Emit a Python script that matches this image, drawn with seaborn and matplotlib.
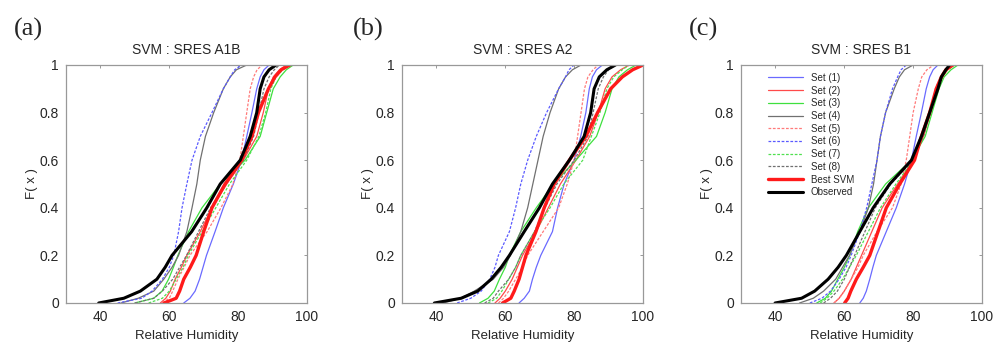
import numpy as np
import pandas as pd
import matplotlib
matplotlib.use("Agg")
import matplotlib.pyplot as plt
import seaborn as sns

# Cumulative probability levels at which the curves were read
F_levels = [0, 0.02, 0.05, 0.1, 0.15, 0.2, 0.3, 0.4, 0.5, 0.6, 0.7, 0.8, 0.9, 0.95, 0.98, 1.0]

series_names = ["Set (1)", "Set (2)", "Set (3)", "Set (4)", "Set (5)",
                "Set (6)", "Set (7)", "Set (8)", "Best SVM", "Observed"]

# Panel (a): SVM : SRES A1B  (relative humidity at each F level)
a1b_set1 = [64.2, 66, 67.5, 68.8, 69.8, 70.8, 73.3, 75.7, 78.6, 81, 82.5, 84, 85.4, 86.4, 87.5, 89]
a1b_set2 = [57.4, 59, 60.3, 61.7, 63.5, 65.1, 69, 72.4, 76.7, 81.5, 85.4, 87.3, 88.8, 90.2, 92, 94]
a1b_set3 = [50, 55.5, 57.9, 59.8, 61.2, 62.5, 65.6, 69.5, 74.8, 82, 86.4, 88.3, 90.2, 92.2, 94, 96]
a1b_set4 = [46, 51, 55.5, 58.4, 60.8, 62.7, 65.1, 66.6, 68, 69, 70.5, 72.9, 75.7, 77.7, 79.5, 82.5]
a1b_set5 = [58, 60, 61, 62.5, 64.3, 66, 71, 75, 78.5, 80.5, 81.5, 82.5, 83.5, 84.5, 85.5, 87]
a1b_set6 = [45, 52, 55, 58, 60, 61.3, 62.7, 63.7, 65.1, 66.6, 69, 72.4, 75.7, 77.7, 79, 81]
a1b_set7 = [54, 58, 60, 62, 64, 65.5, 69.5, 73.5, 77.5, 82.5, 86, 88, 89.5, 91, 93, 95]
a1b_set8 = [50, 55.5, 58, 61, 63, 65, 68.5, 72, 76.5, 81.5, 84.5, 86, 87.5, 89, 90.5, 92]
a1b_best = [58.5, 62, 63, 64.2, 66.1, 67.8, 70, 72.4, 76.2, 81, 84, 85.9, 88.8, 90.7, 92.5, 95]
a1b_obs = [39.5, 46.8, 51.6, 56.4, 58.8, 60.8, 66.5, 70.9, 74.8, 80.6, 83.5, 85.4, 86.4, 87.5, 89, 91]

# Panel (b): SVM : SRES A2
a2_set1 = [64, 65.5, 67, 67.9, 69, 70.3, 73.7, 75.2, 77.1, 80, 81.9, 83.4, 84.4, 85.3, 86.5, 88.2]
a2_set2 = [57, 58.5, 60, 62, 63.5, 65, 69, 72.5, 76, 80.5, 84.5, 87, 89, 91, 93.5, 96]
a2_set3 = [52.5, 55, 56.8, 58.3, 60, 61.2, 64.5, 69, 74, 80.5, 86.5, 89, 91, 93, 95.5, 98]
a2_set4 = [42, 47, 51, 56.5, 59.5, 61.5, 64.5, 66.5, 68, 69.5, 71, 73, 75.5, 77.5, 79.5, 82]
a2_set5 = [58, 59.5, 61, 63, 65, 66.5, 71, 75.5, 78, 80, 81, 82, 83, 84, 85.5, 87]
a2_set6 = [46, 50, 53, 55.5, 57, 58, 61.2, 63, 64.5, 66.5, 69, 72, 75.5, 77.5, 78.5, 80]
a2_set7 = [55, 57.5, 59, 61, 63, 64.5, 68.5, 73, 77, 82.5, 85, 87.5, 89.5, 91.5, 94, 96]
a2_set8 = [54, 56.5, 58, 61, 63, 64.5, 68.5, 71.5, 75, 80, 84, 85.5, 87, 88.5, 90, 92]
a2_best = [59.2, 61.6, 62.6, 64, 65, 66, 68.9, 71.3, 74.2, 78.6, 83.4, 86.8, 90.6, 94, 97, 100]
a2_obs = [39.4, 47.2, 52, 55.9, 58.8, 61.2, 65.5, 69.9, 73.7, 78.6, 82.9, 84.8, 85.8, 87.3, 89.5, 92]

# Panel (c): SVM : SRES B1
b1_set1 = [64.5, 65.5, 66.4, 67.4, 68.3, 69.3, 72.2, 75.1, 77.5, 79.5, 80.9, 82.4, 83.8, 84.8, 85.8, 87.2]
b1_set2 = [57, 58.5, 60, 62, 63.5, 65, 68, 71, 75.5, 80, 83, 85, 87, 88.5, 90, 92]
b1_set3 = [52, 54.5, 56.3, 58.1, 60, 61.6, 63.9, 67, 72, 79.5, 83.5, 85.5, 87.5, 89, 91, 93]
b1_set4 = [47, 51, 54, 57.5, 59.5, 61.5, 64.5, 67, 68.5, 69.5, 70.5, 72, 74.5, 76, 77.5, 80]
b1_set5 = [57, 58.5, 60, 62, 64, 65.5, 69.5, 74, 76.5, 78, 79, 80, 81.5, 82.5, 84, 86]
b1_set6 = [50, 53.5, 56, 58.5, 60.5, 62, 64.5, 66.5, 68, 69.5, 70.5, 72, 74, 75.5, 76.5, 78]
b1_set7 = [53, 55, 57, 59.5, 61.5, 63.5, 67, 70.5, 75, 80, 82.5, 85, 87, 88.5, 90, 92]
b1_set8 = [54, 56, 58, 60, 61.5, 63, 66, 69, 73.5, 80, 83, 85, 86.5, 88, 89.5, 91]
b1_best = [60.1, 61.1, 61.9, 63.5, 65.5, 67.4, 69.8, 72.2, 76.1, 80.4, 82.4, 84.8, 86.7, 88.2, 89.5, 91.5]
b1_obs = [39.9, 47.6, 51.4, 55.3, 58.2, 60.6, 64.5, 68.4, 73.2, 79.5, 82.4, 84.8, 87.2, 88.2, 89.5, 90.6]

panel_titles = ["SVM : SRES A1B", "SVM : SRES A2", "SVM : SRES B1"]
panel_letters = ["(a)", "(b)", "(c)"]
panel_data = [
    [a1b_set1, a1b_set2, a1b_set3, a1b_set4, a1b_set5, a1b_set6, a1b_set7, a1b_set8, a1b_best, a1b_obs],
    [a2_set1, a2_set2, a2_set3, a2_set4, a2_set5, a2_set6, a2_set7, a2_set8, a2_best, a2_obs],
    [b1_set1, b1_set2, b1_set3, b1_set4, b1_set5, b1_set6, b1_set7, b1_set8, b1_best, b1_obs],
]

x_ticks = [40, 60, 80, 100]
y_ticks = [0, 0.2, 0.4, 0.6, 0.8, 1]
y_ticklabels = ["0", "0.2", "0.4", "0.6", "0.8", "1"]

# Styles
colors = ["#6a6aff", "#ff4a4a", "#3ee03e", "#707070", "#ff7a7a",
          "#5a5aff", "#50e050", "#707070", "#ff1a1a", "#000000"]
short_dash = (0, (2.2, 1.3))
dashes = ["-", "-", "-", "-", short_dash, short_dash, short_dash, short_dash, "-", "-"]
widths = [0.9, 0.9, 0.9, 0.9, 0.9, 0.9, 0.9, 0.9, 2.4, 2.2]

sns.set_style("white")
plt.rcParams["font.family"] = ["Liberation Sans", "DejaVu Sans"]

fig = plt.figure(figsize=(10.03, 3.46), dpi=100)
lefts = [66 / 1003, 402 / 1003, 741 / 1003]
bottom = 1 - 303 / 346
width = 241 / 1003
height = 238 / 346
letter_x = [14 / 1003, 353 / 1003, 689 / 1003]

for p in range(3):
    ax = fig.add_axes([lefts[p], bottom, width, height])
    for s, name in enumerate(series_names):
        df = pd.DataFrame({"x": panel_data[p][s], "F": F_levels})
        sns.lineplot(data=df, x="x", y="F", sort=False, estimator=None,
                     ax=ax, color=colors[s], linestyle=dashes[s],
                     linewidth=widths[s], label=name if p == 2 else None,
                     legend=False)
    ax.set_xlim(30, 100)
    ax.set_ylim(0, 1)
    ax.set_xticks(x_ticks)
    ax.set_yticks(y_ticks)
    ax.set_yticklabels(y_ticklabels)
    ax.tick_params(direction="in", length=2.5, width=0.6, color="#888888",
                   labelsize=10, top=True, right=True, pad=5)
    for sp in ax.spines.values():
        sp.set_color("#999999")
        sp.set_linewidth(0.9)
    ax.set_title(panel_titles[p], fontsize=10, pad=8)
    ax.set_xlabel("Relative Humidity", fontsize=9.5, labelpad=4)
    ax.set_ylabel("F( x )", fontsize=9.5, labelpad=1)
    fig.text(letter_x[p], 1 - 29 / 346, panel_letters[p],
             family="Liberation Serif", fontsize=19, va="center", ha="left")
    if p == 2:
        ax.legend(loc="upper left", frameon=False, fontsize=7,
                  handlelength=3.6, handletextpad=0.8, labelspacing=0.28,
                  borderaxespad=0.4, bbox_to_anchor=(0.08, 1.0))

fig.savefig("out.png", dpi=100)
